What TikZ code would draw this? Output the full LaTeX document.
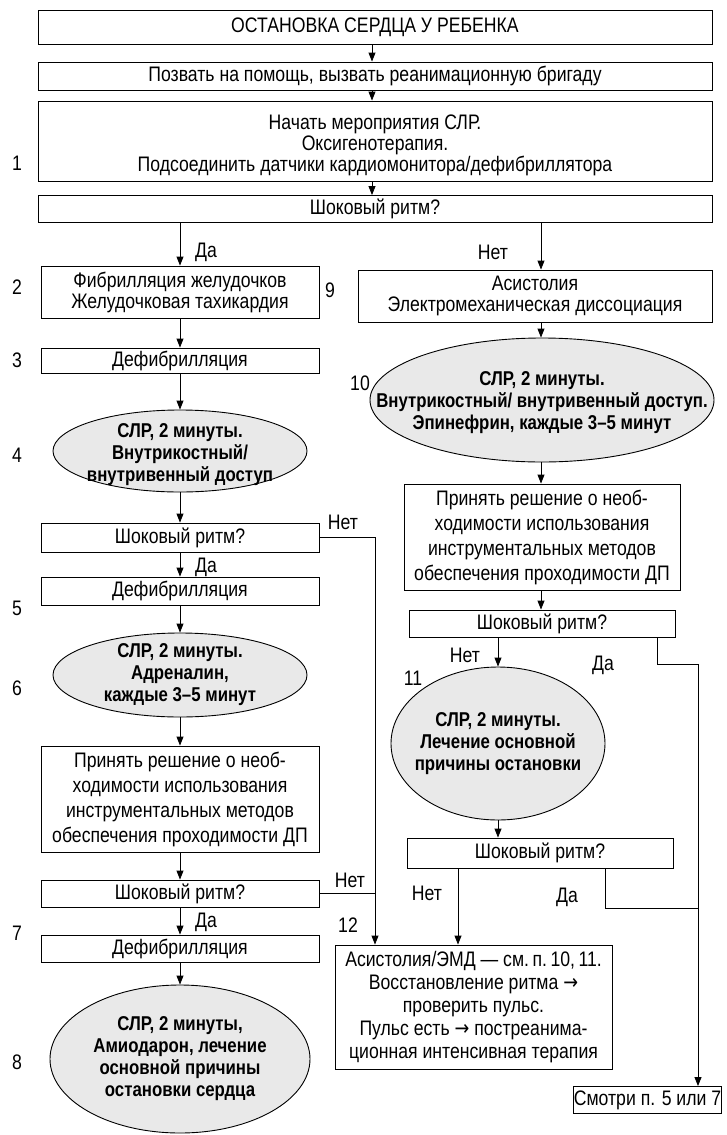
\documentclass[tikz,border=0pt]{standalone}
\usepackage{fontspec}
\setmainfont{Liberation Sans}[FakeStretch=0.84]
\newfontfamily\djv{DejaVu Sans}[FakeStretch=0.84]
\usetikzlibrary{shapes.geometric,arrows.meta}
\newcommand\rarr{{\djv →}}
\newcommand\fs{\fontsize{21}{21}\selectfont}
\newcommand\fsd{\fontsize{21}{25}\selectfont}
\newcommand\fsb{\fontsize{21}{23}\selectfont}
\newcommand\bfs{\fontsize{20}{22}\selectfont\bfseries}
\begin{document}
\begin{tikzpicture}[x=1pt,y=-1pt,
 box/.style={draw,line width=0.9pt,inner sep=0pt,align=center,font=\fs},
 oval/.style={ellipse,draw,line width=0.9pt,fill=gray!17,inner sep=0pt},
 otext/.style={inner sep=0pt,align=center,font=\bfs},
 arr/.style={-{Triangle[length=9pt,width=7pt]},line width=0.9pt},
 ln/.style={line width=0.9pt},
 lbl/.style={inner sep=0pt,font=\fs},
]
\useasboundingbox (0,0) rectangle (726,1135);
% top flow
\node[box,minimum width=674pt,minimum height=34pt] (top) at (375,27.5) {ОСТАНОВКА СЕРДЦА У РЕБЕНКА};
\node[box,minimum width=674pt,minimum height=28pt] (call) at (375,76) {Позвать на помощь, вызвать реанимационную бригаду};
\node[box,minimum width=674pt,minimum height=80pt] (start) at (375,141) {};
\node[inner sep=0pt,align=center,font=\fs] (startt) at (375,145) {Начать мероприятия СЛР.\\Оксигенотерапия.\\Подсоединить датчики кардиомонитора/дефибриллятора};
\node[box,minimum width=674pt,minimum height=27pt] (shock1) at (375,209) {Шоковый ритм?};
% left column
\node[box,minimum width=278pt,minimum height=52pt] (fv) at (180,292) {Фибрилляция желудочков\\Желудочковая тахикардия};
\node[box,minimum width=278pt,minimum height=25pt] (def3) at (180,360.5) {Дефибрилляция};
\node[oval,minimum width=254pt,minimum height=82pt] (ell4) at (180,451) {};
\node[otext] (ell4t) at (180,455) {СЛР, 2 минуты.\\Внутрикостный/\\внутривенный доступ};
\node[box,minimum width=278pt,minimum height=29pt] (shock2) at (180,537.5) {Шоковый ритм?};
\node[box,minimum width=278pt,minimum height=28pt] (def5) at (180,591) {Дефибрилляция};
\node[oval,minimum width=254pt,minimum height=84pt] (ell6) at (180,675) {};
\node[otext] (ell6t) at (ell6) {СЛР, 2 минуты.\\Адреналин,\\каждые 3–5 минут};
\node[box,font=\fsd,minimum width=278pt,minimum height=106pt] (decL) at (180,799) {Принять решение о необ-\\ходимости использования\\инструментальных методов\\обеспечения проходимости ДП};
\node[box,minimum width=278pt,minimum height=27pt] (shock3L) at (180,893.5) {Шоковый ритм?};
\node[box,minimum width=278pt,minimum height=27pt] (def7) at (180,948.5) {Дефибрилляция};
\node[oval,minimum width=260pt,minimum height=148pt] (ell8) at (180,1059) {};
\node[otext] (ell8t) at (ell8) {СЛР, 2 минуты,\\Амиодарон, лечение\\основной причины\\остановки сердца};
% right column
\node[box,minimum width=354pt,minimum height=52pt] (asys) at (535,296) {Асистолия\\Электромеханическая диссоциация};
\node[oval,minimum width=344pt,minimum height=124pt] (ell10) at (542,400) {};
\node[otext] (ell10t) at (542,403) {СЛР, 2 минуты.\\Внутрикостный/ внутривенный доступ.\\Эпинефрин, каждые 3–5 минут};
\node[box,font=\fsd,minimum width=276pt,minimum height=106pt] (decR) at (542,537) {Принять решение о необ-\\ходимости использования\\инструментальных методов\\обеспечения проходимости ДП};
\node[box,minimum width=266pt,minimum height=27pt] (shock3R) at (542,623.5) {Шоковый ритм?};
\node[oval,minimum width=214pt,minimum height=153pt] (ell11) at (498,743.5) {};
\node[otext] (ell11t) at (ell11) {СЛР, 2 минуты.\\Лечение основной\\причины остановки};
\node[box,minimum width=266pt,minimum height=30pt] (shock4R) at (540,853) {Шоковый ритм?};
\node[box,font=\fsb,minimum width=277pt,minimum height=124pt] (box12) at (473.5,1007) {Асистолия/ЭМД — см.\,п.\,10,\,11.\\Восстановление ритма \rarr\\проверить пульс.\\Пульс есть \rarr{} постреанима-\\ционная интенсивная терапия};
\node[box,minimum width=130pt,minimum height=27pt] (see) at (647.5,1100) {Смотри п. 5 или 7};
% helper coordinates
\coordinate (cx) at (372,0);
\coordinate (ax) at (541,0);
\coordinate (lx) at (375,0);
\coordinate (nx) at (458,0);
\coordinate (j1) at (657,664);
\coordinate (j2) at (698,664);
\coordinate (j3) at (605,908);
\coordinate (j4) at (698,908);
% connectors
\draw[arr] (top.south -| cx) -- (call.north -| cx);
\draw[arr] (call.south -| cx) -- (start.north -| cx);
\draw[arr] (start.south -| cx) -- (shock1.north -| cx);
\draw[arr] (shock1.south -| fv.north) -- (fv.north);
\draw[arr] (shock1.south -| ax) -- (asys.north -| ax);
\draw[arr] (fv.south) -- (def3.north);
\draw[arr] (def3.south) -- (ell4.north);
\draw[arr] (ell4.south) -- (shock2.north);
\draw[arr] (shock2.south) -- (def5.north);
\draw[arr] (def5.south) -- (ell6.north);
\draw[arr] (ell6.south) -- (decL.north);
\draw[arr] (decL.south) -- (shock3L.north);
\draw[arr] (shock3L.south) -- (def7.north);
\draw[arr] (def7.south) -- (ell8.north);
\draw[arr] (asys.south -| ax) -- (ell10.north -| ax);
\draw[arr] (ell10.south -| ax) -- (decR.north -| ax);
\draw[arr] (decR.south -| ax) -- (shock3R.north -| ax);
\draw[arr] (shock3R.south -| ell11.north) -- (ell11.north);
\draw[ln] (shock3R.south -| j1) -- (j1) -- (j2);
\draw[arr] (j2) -- (see.north -| j2);
\draw[arr] (ell11.south) -- (shock4R.north -| ell11.south);
\draw[arr] (shock4R.south -| nx) -- (box12.north -| nx);
\draw[ln] (shock4R.south -| j3) -- (j3) -- (j4);
\draw[arr] (shock2.east) -- (shock2.east -| lx) -- (box12.north -| lx);
\draw[ln] (shock3L.east) -- (shock3L.east -| lx);
% branch labels
\node[lbl] (da1) at (206,252) {Да};
\node[lbl] (net1) at (493,252) {Нет};
\node[lbl] (net2) at (343,522) {Нет};
\node[lbl] (da2) at (206,567) {Да};
\node[lbl] (net3) at (350,880) {Нет};
\node[lbl] (da3) at (206,922) {Да};
\node[lbl] (net4) at (465,655) {Нет};
\node[lbl] (da4) at (603,665) {Да};
\node[lbl] (net5) at (427,893) {Нет};
\node[lbl] (da5) at (567,897) {Да};
% step numbers
\node[lbl] (n1) at (17,163) {1};
\node[lbl] (n2) at (17,287) {2};
\node[lbl] (n9) at (330,290) {9};
\node[lbl] (n3) at (17,360) {3};
\node[lbl] (n10) at (360,383) {10};
\node[lbl] (n4) at (17,455) {4};
\node[lbl] (n5) at (17,608) {5};
\node[lbl] (n6) at (17,688) {6};
\node[lbl] (n11) at (413,678) {11};
\node[lbl] (n7) at (17,933) {7};
\node[lbl] (n12) at (348,925) {12};
\node[lbl] (n8) at (17,1062) {8};
\end{tikzpicture}
\end{document}
